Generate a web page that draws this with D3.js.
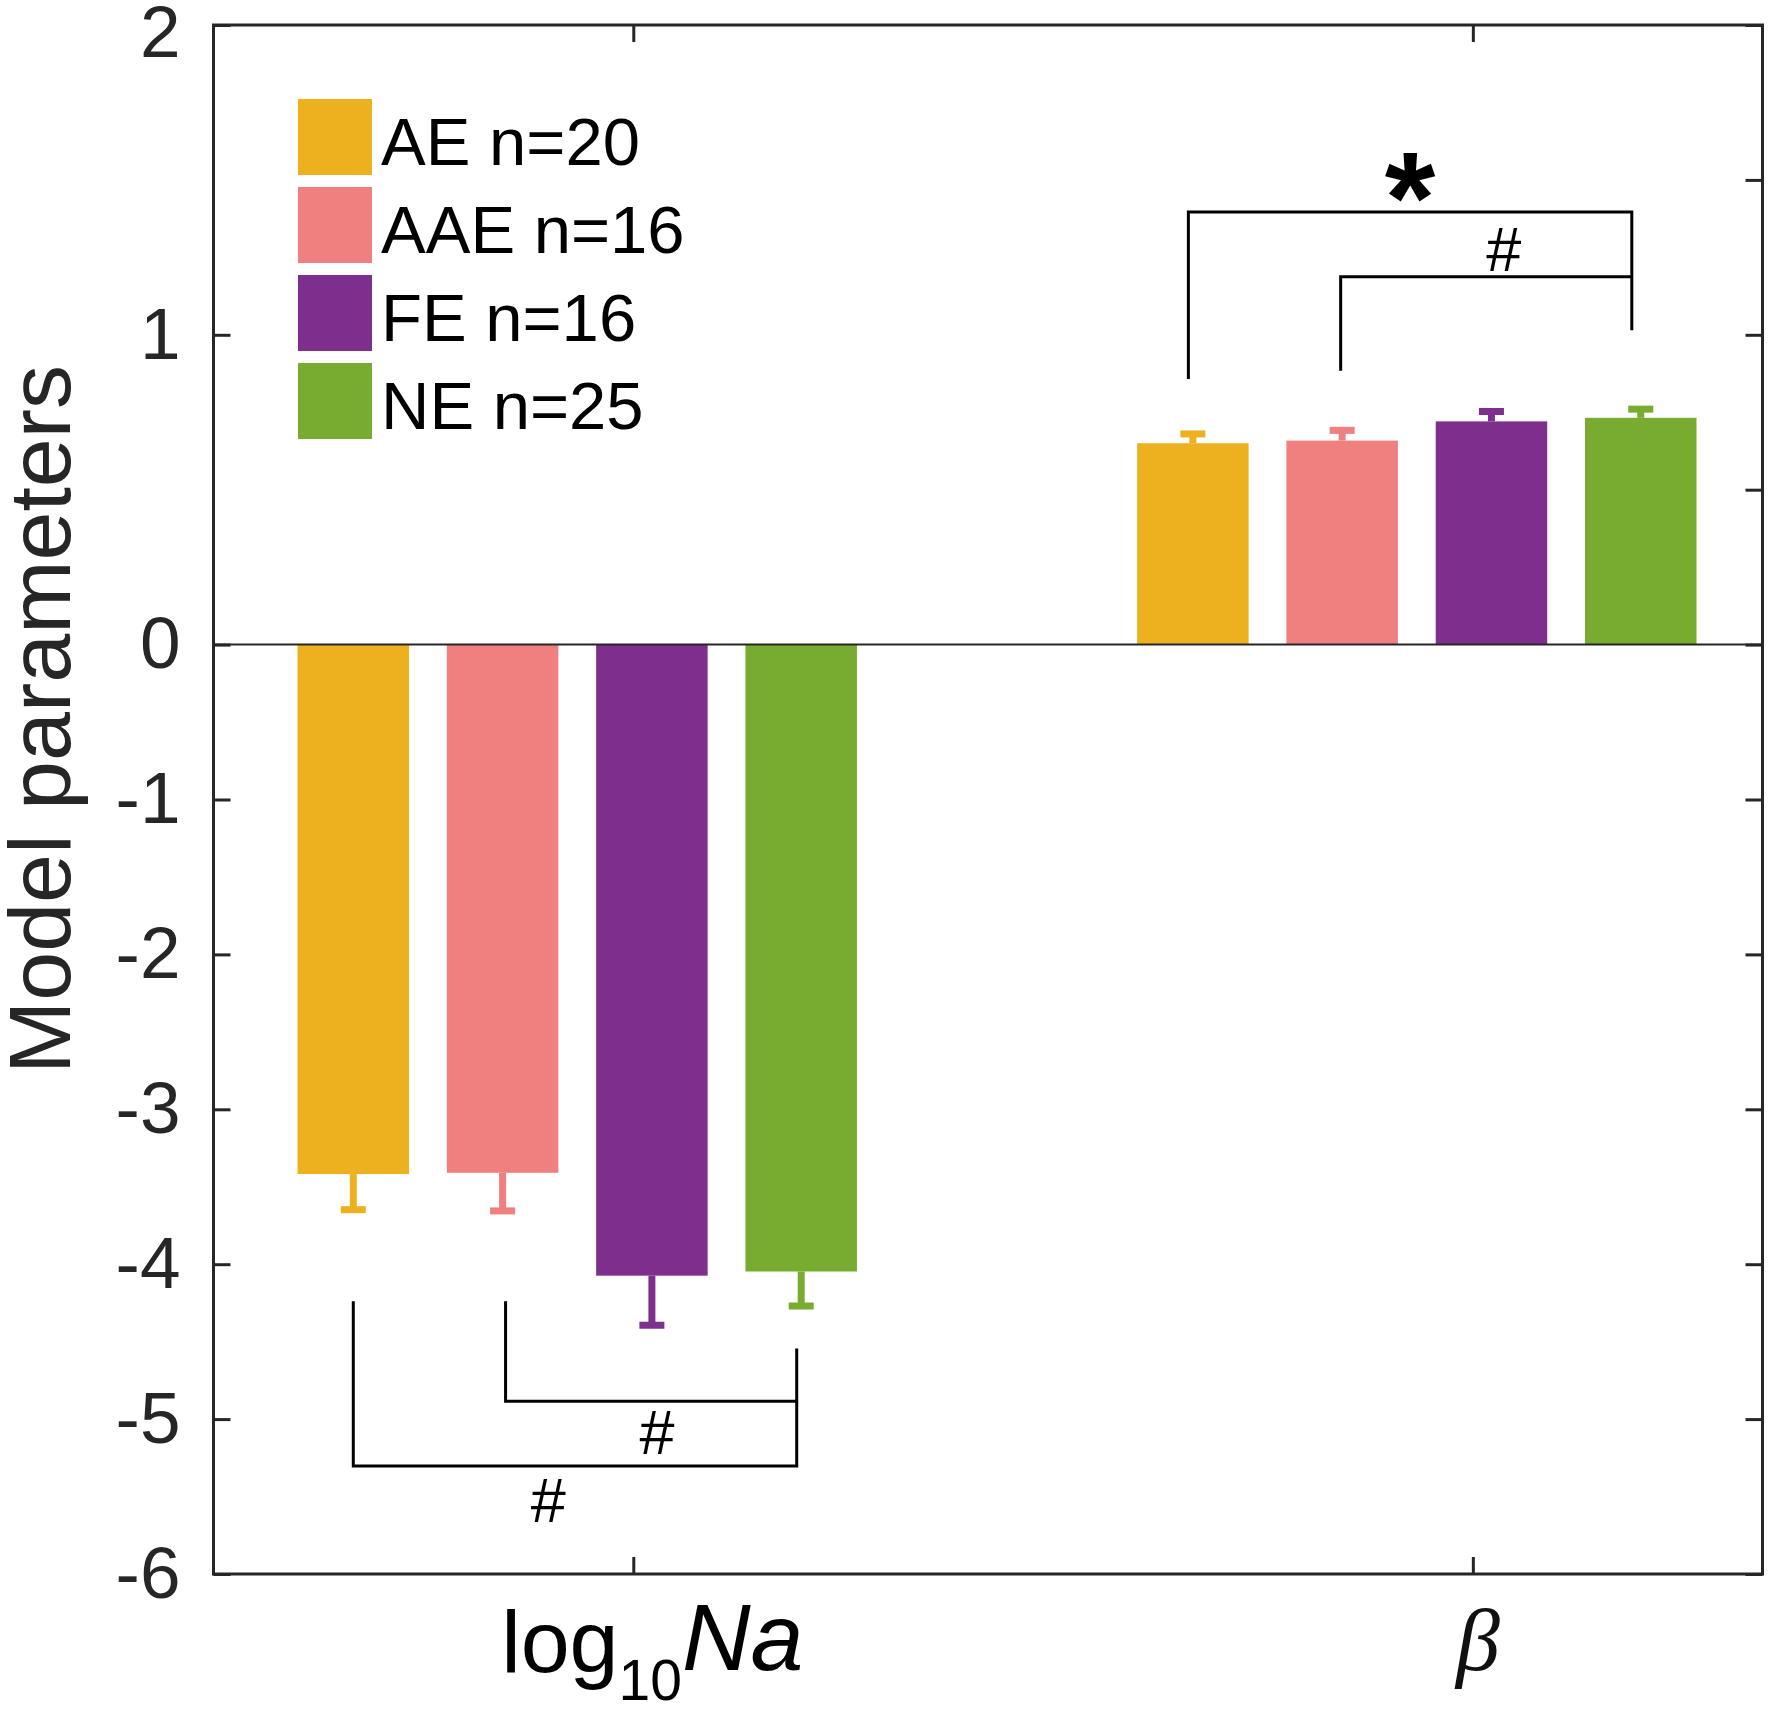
<!DOCTYPE html>
<html>
<head>
<meta charset="utf-8">
<script src="https://cdn.jsdelivr.net/npm/d3@7"></script>
<style>
  html, body { margin: 0; padding: 0; background: #fff; }
  svg text { font-family: "Liberation Sans", Arial, Helvetica, sans-serif; }
</style>
</head>
<body>
<svg id="chart" width="1769" height="1709"></svg>
<script>
// ---- data ----
const groups = [1, 2];                       // x positions of the two parameter groups
const groupLabels = ['log10Na', 'beta'];
const series = ['AE n=20', 'AAE n=16', 'FE n=16', 'NE n=25'];
const colors = ['#EDB120', '#F08080', '#7E2F8E', '#77AC30'];

const naMeans = [-3.418, -3.41, -4.074, -4.047];
const naErrs = [0.23, 0.246, 0.32, 0.223];
const betaMeans = [0.650, 0.6585, 0.7205, 0.732];
const betaErrs = [0.030, 0.033, 0.032, 0.028];

const leftTicks = [2, 1, 0, -1, -2, -3, -4, -5, -6];
const rightTicks = d3.range(-6, 5);

// significance brackets: group index, series from/to (fractional index), end heights, bar level, label
const brackets = [
    { group: 0, from: 0, to: 2.97, fromEnd: -4.239, toEnd: -4.545, level: -5.303, label: '#', labelY: -5.529, labelAt: 0.44 },
    { group: 0, from: 1.02, to: 2.97, fromEnd: -4.239, toEnd: -4.884, level: -4.884, label: '#', labelY: -5.084, labelAt: 0.52 },
    { group: 1, from: -0.03, to: 2.94, fromEnd: 0.8575, toEnd: 1.0145, level: 1.396, label: '*', labelY: 1.53, labelAt: 0.5 },
    { group: 1, from: 0.99, to: 2.94, fromEnd: 0.884, toEnd: 1.187, level: 1.187, label: '#', labelY: 1.276, labelAt: 0.56 }
];

const means = [naMeans, betaMeans];
const errs = [naErrs, betaErrs];

// ---- layout ----
const svg = d3.select('#chart');
const box = { left: 213.5, right: 1762.5, top: 25, bottom: 1574 };
const axisColor = '#262626';

const x = d3.scaleLinear().domain([0.5, 2.345]).range([box.left, box.right]);
// right axis is uniform; the left labels stretch 0..2 over 0..4 of it
const yR = d3.scaleLinear().domain([-6, 4]).range([box.bottom, box.top]);
const y = d3.scaleLinear().domain([-6, 0, 2]).range([yR(-6), yR(0), yR(4)]);

// series offset inside a group (x units)
const offset = d3.scaleLinear().domain([0, 3]).range([-0.3335, 0.2]);
const barW = x(1.1328) - x(1);
const capW = 25;

const barX = (g, i) => x(groups[g] + offset(i));

// ---- bars ----
const rows = [];
means.forEach((arr, g) => arr.forEach((v, i) => rows.push({ g, i, v, e: errs[g][i] })));

svg.append('g').attr('class', 'bars')
    .selectAll('rect')
    .data(rows)
    .enter()
    .append('rect')
    .attr('x', d => barX(d.g, d.i) - barW / 2)
    .attr('width', barW)
    .attr('y', d => Math.min(y(d.v), y(0)))
    .attr('height', d => Math.abs(y(d.v) - y(0)))
    .attr('fill', d => colors[d.i]);

// ---- error bars (outward only) ----
const eb = svg.append('g').attr('class', 'errorbars')
    .selectAll('g')
    .data(rows)
    .enter()
    .append('g')
    .attr('stroke', d => colors[d.i])
    .attr('stroke-width', 7);

const tip = d => d.v < 0 ? d.v - d.e : d.v + d.e;

eb.append('line')
    .attr('x1', d => barX(d.g, d.i))
    .attr('x2', d => barX(d.g, d.i))
    .attr('y1', d => y(d.v))
    .attr('y2', d => y(tip(d)));

eb.append('line')
    .attr('x1', d => barX(d.g, d.i) - capW / 2)
    .attr('x2', d => barX(d.g, d.i) + capW / 2)
    .attr('y1', d => y(tip(d)))
    .attr('y2', d => y(tip(d)));

// ---- zero line ----
svg.append('line')
    .attr('x1', box.left).attr('x2', box.right)
    .attr('y1', y(0)).attr('y2', y(0))
    .attr('stroke', axisColor)
    .attr('stroke-width', 2);

// ---- axes ----
const styleAxis = (sel) => {
    sel.select('.domain').remove();
    sel.selectAll('.tick line').attr('stroke', axisColor).attr('stroke-width', 3);
};

const leftAxis = svg.append('g')
    .attr('transform', `translate(${box.left},0)`)
    .call(d3.axisLeft(y).tickValues(leftTicks).tickSize(-17).tickPadding(33).tickFormat(d => String(d)))
    .call(styleAxis);

leftAxis.selectAll('.tick text')
    .attr('fill', axisColor)
    .attr('font-size', 73)
    .attr('font-family', '"Liberation Sans", Arial, Helvetica, sans-serif')
    .attr('dy', d => d === 2 ? '0.43em' : '0.32em');

svg.append('g')
    .attr('transform', `translate(${box.right},0)`)
    .call(d3.axisRight(yR).tickValues(rightTicks).tickSize(-17).tickFormat(''))
    .call(styleAxis);

svg.append('g')
    .attr('transform', `translate(0,${box.top})`)
    .call(d3.axisTop(x).tickValues(groups).tickSize(-17).tickFormat(''))
    .call(styleAxis);

svg.append('g')
    .attr('transform', `translate(0,${box.bottom})`)
    .call(d3.axisBottom(x).tickValues(groups).tickSize(-17).tickFormat(''))
    .call(styleAxis);

svg.append('rect')
    .attr('x', box.left).attr('y', box.top)
    .attr('width', box.right - box.left)
    .attr('height', box.bottom - box.top)
    .attr('fill', 'none')
    .attr('stroke', axisColor)
    .attr('stroke-width', 3);

// ---- axis labels ----
const naLabel = svg.append('text')
    .attr('x', x(groups[0]) + 19)
    .attr('y', 1672)
    .attr('text-anchor', 'middle')
    .attr('fill', '#000');
naLabel.append('tspan').attr('font-size', 88).text('log');
naLabel.append('tspan').attr('font-size', 57).attr('dy', 28).text('10');
naLabel.append('tspan').attr('font-size', 95).attr('dy', -30).attr('font-style', 'italic').text('Na');

svg.append('text')
    .attr('x', x(groups[1]) + 5)
    .attr('y', 1670)
    .attr('text-anchor', 'middle')
    .attr('font-size', 88)
    .attr('font-style', 'italic')
    .style('font-family', '"Liberation Serif", "Times New Roman", serif')
    .attr('fill', '#111')
    .text('β');

svg.append('text')
    .attr('transform', `translate(70,${(box.top + box.bottom) / 2 - 80}) rotate(-90)`)
    .attr('text-anchor', 'middle')
    .attr('font-size', 88)
    .attr('fill', axisColor)
    .text('Model parameters');

// ---- legend ----
const legend = svg.append('g').attr('class', 'legend')
    .selectAll('g')
    .data(series)
    .enter()
    .append('g')
    .attr('transform', (d, i) => `translate(298,${99 + i * 88})`);

legend.append('rect')
    .attr('width', 74)
    .attr('height', 76)
    .attr('fill', (d, i) => colors[i]);

legend.append('text')
    .attr('x', 83)
    .attr('y', 66)
    .attr('font-size', 67)
    .attr('fill', '#000')
    .text(d => d);

// ---- significance brackets ----
const ann = svg.append('g').attr('class', 'brackets');

brackets.forEach(b => {
    const x1 = barX(b.group, b.from);
    const x2 = barX(b.group, b.to);
    const pts = [[x1, y(b.fromEnd)], [x1, y(b.level)], [x2, y(b.level)], [x2, y(b.toEnd)]];
    ann.append('path')
        .attr('d', d3.line()(pts))
        .attr('fill', 'none')
        .attr('stroke', '#000')
        .attr('stroke-width', 3);

    const lx = x1 + (x2 - x1) * b.labelAt;
    const big = b.label === '*';
    const fs = big ? 130 : 63;
    ann.append('text')
        .attr('x', lx)
        .attr('y', y(b.labelY) + (big ? 0.56 : 0.34) * fs)
        .attr('text-anchor', 'middle')
        .attr('font-size', fs)
        .attr('font-weight', big ? 'bold' : 'normal')
        .attr('fill', '#000')
        .text(b.label);
});
</script>
</body>
</html>
